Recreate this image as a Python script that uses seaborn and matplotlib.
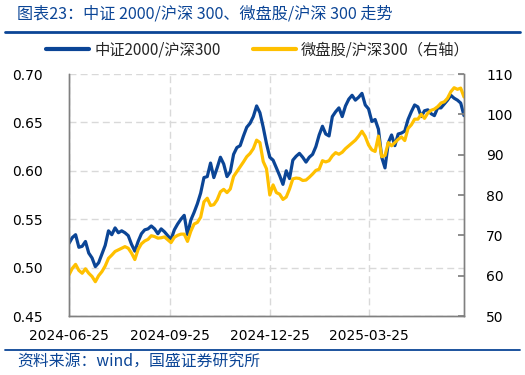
import numpy as np
import pandas as pd
import matplotlib
matplotlib.use("Agg")
import matplotlib.pyplot as plt
from matplotlib.lines import Line2D
import seaborn as sns

# ---- data (one point every 3 calendar days) ----
start_date = "2024-06-25"
step_days = 3
csi2000_hs300 = [
    0.525, 0.531, 0.534, 0.521, 0.522, 0.527, 0.515, 0.510, 0.501, 0.505,
    0.514, 0.523, 0.538, 0.534, 0.541, 0.536, 0.538, 0.536, 0.533, 0.524,
    0.517, 0.527, 0.535, 0.539, 0.540, 0.543, 0.540, 0.535, 0.540, 0.537,
    0.533, 0.529, 0.539, 0.545, 0.550, 0.554, 0.534, 0.549, 0.557, 0.566,
    0.577, 0.593, 0.594, 0.608, 0.593, 0.603, 0.614, 0.607, 0.594, 0.599,
    0.617, 0.624, 0.626, 0.636, 0.645, 0.649, 0.656, 0.667, 0.660, 0.645,
    0.628, 0.614, 0.611, 0.603, 0.595, 0.586, 0.600, 0.592, 0.611, 0.615,
    0.618, 0.614, 0.609, 0.614, 0.617, 0.625, 0.637, 0.646, 0.638, 0.636,
    0.656, 0.661, 0.665, 0.656, 0.667, 0.674, 0.678, 0.673, 0.676, 0.680,
    0.668, 0.664, 0.651, 0.653, 0.643, 0.614, 0.603, 0.629, 0.637, 0.626,
    0.638, 0.639, 0.641, 0.653, 0.661, 0.668, 0.666, 0.656, 0.662, 0.663,
    0.659, 0.657, 0.665, 0.665, 0.669, 0.673, 0.678, 0.675, 0.673, 0.670,
    0.657,
]
micro_hs300 = [
    60.2, 61.8, 62.8, 61.3, 60.6, 61.7, 60.6, 59.8, 58.5, 60.0,
    61.0, 62.4, 64.3, 65.1, 66.0, 66.4, 66.8, 67.2, 66.8, 65.6,
    64.0, 66.5, 67.9, 68.6, 69.0, 69.9, 69.7, 69.3, 69.4, 69.6,
    68.9, 68.2, 69.5, 70.0, 70.3, 70.3, 68.5, 71.0, 72.8, 73.2,
    74.5, 78.3, 79.2, 77.4, 77.6, 78.8, 80.8, 81.4, 80.6, 81.5,
    84.6, 85.8, 87.0, 88.2, 89.5, 90.3, 91.5, 93.6, 93.0, 88.3,
    86.5, 80.0, 82.5, 80.6, 80.2, 78.9, 79.5, 81.5, 84.0, 84.2,
    84.1, 83.6, 83.7, 84.4, 85.2, 86.1, 86.4, 88.5, 88.2, 88.5,
    89.7, 90.5, 90.1, 90.6, 91.5, 92.2, 92.9, 93.6, 94.6, 95.8,
    94.5, 92.4, 91.2, 90.8, 94.6, 89.5, 89.8, 93.0, 92.2, 93.0,
    93.8, 94.4, 93.5, 96.5, 97.4, 98.8, 98.8, 100.0, 99.0, 100.3,
    101.0, 101.3, 101.9, 102.8, 103.1, 104.0, 105.6, 106.6, 106.2, 106.5,
    104.3,
]
x_tick_labels = ["2024-06-25", "2024-09-25", "2024-12-25", "2025-03-25"]
left_ticks = [0.45, 0.50, 0.55, 0.60, 0.65, 0.70]
right_ticks = [50, 60, 70, 80, 90, 100, 110]
series1_name = "中证2000/沪深300"
series2_name = "微盘股/沪深300（右轴）"
title_text = "图表23：中证 2000/沪深 300、微盘股/沪深 300 走势"
source_text = "资料来源：wind，国盛证券研究所"

dates = pd.date_range(start_date, periods=len(csi2000_hs300), freq=f"{step_days}D")
df = pd.DataFrame({"date": dates, "s1": csi2000_hs300, "s2": micro_hs300})

# ---- style ----
sns.set_theme(style="white")
plt.rcParams["font.family"] = ["DejaVu Sans", "Noto Sans CJK SC"]
BLUE = "#0B4596"
YELLOW = "#FFC000"
GRID = "#D9D9D9"
SPINE = "#808080"
CJK = ["Noto Sans CJK SC", "DejaVu Sans"]

fig = plt.figure(figsize=(5.25, 3.75), dpi=100)
ax = fig.add_axes([69 / 525, 1 - 316 / 375, (464 - 69) / 525, (316 - 74) / 375])
ax2 = ax.twinx()

sns.lineplot(data=df, x="date", y="s1", ax=ax, color=BLUE, linewidth=2.3)
sns.lineplot(data=df, x="date", y="s2", ax=ax2, color=YELLOW, linewidth=2.3)

ax.set_xlim(pd.Timestamp("2024-06-25"), pd.Timestamp("2025-06-20"))
ax.set_xticks(pd.to_datetime(x_tick_labels))
ax.set_xticklabels(x_tick_labels)
ax.set_ylim(left_ticks[0], left_ticks[-1])
ax.set_yticks(left_ticks)
ax.set_yticklabels([f"{v:.2f}" for v in left_ticks])
ax2.set_ylim(right_ticks[0], right_ticks[-1])
ax2.set_yticks(right_ticks)
ax2.set_yticklabels([str(v) for v in right_ticks])

for a in (ax, ax2):
    a.set_xlabel("")
    a.set_ylabel("")

ax.grid(True, color=GRID, linestyle=(0, (5, 3)), linewidth=1.0)
ax.set_axisbelow(True)

ax.tick_params(axis="x", direction="in", length=4, color=SPINE, labelsize=10,
               pad=9, labelcolor="#000000")
ax.tick_params(axis="y", length=0, labelsize=10, pad=19, labelcolor="#000000")
ax2.tick_params(axis="y", direction="in", length=4, color=SPINE, labelsize=10,
                pad=16, labelcolor="#000000")

for a in (ax, ax2):
    a.spines["top"].set_visible(False)
    for side in ("left", "right", "bottom"):
        a.spines[side].set_color(SPINE)
        a.spines[side].set_linewidth(1.0)

# ---- legend ----
handles = [Line2D([0], [0], color=BLUE, lw=3), Line2D([0], [0], color=YELLOW, lw=3)]
fig.legend(handles, [series1_name, series2_name], loc="center",
           bbox_to_anchor=(258 / 525, 1 - 50 / 375), ncol=2, frameon=False,
           prop={"family": CJK, "size": 11}, handlelength=2.8, handletextpad=0.35,
           columnspacing=2.1)

# ---- title, rules and source ----
fig.text(17 / 525, 1 - 14 / 375, title_text, family=CJK, fontsize=11.6,
         color=BLUE, va="center", ha="left", style="italic")
fig.add_artist(Line2D([5 / 525, 520 / 525], [1 - 32 / 375, 1 - 32 / 375],
                      color=BLUE, lw=2.0))
fig.add_artist(Line2D([5 / 525, 520 / 525], [1 - 350 / 375, 1 - 350 / 375],
                      color=BLUE, lw=1.3))
fig.text(17 / 525, 1 - 362 / 375, source_text, family=CJK, fontsize=11.4,
         color=BLUE, va="center", ha="left", style="italic")

fig.savefig("out.png", dpi=100)
